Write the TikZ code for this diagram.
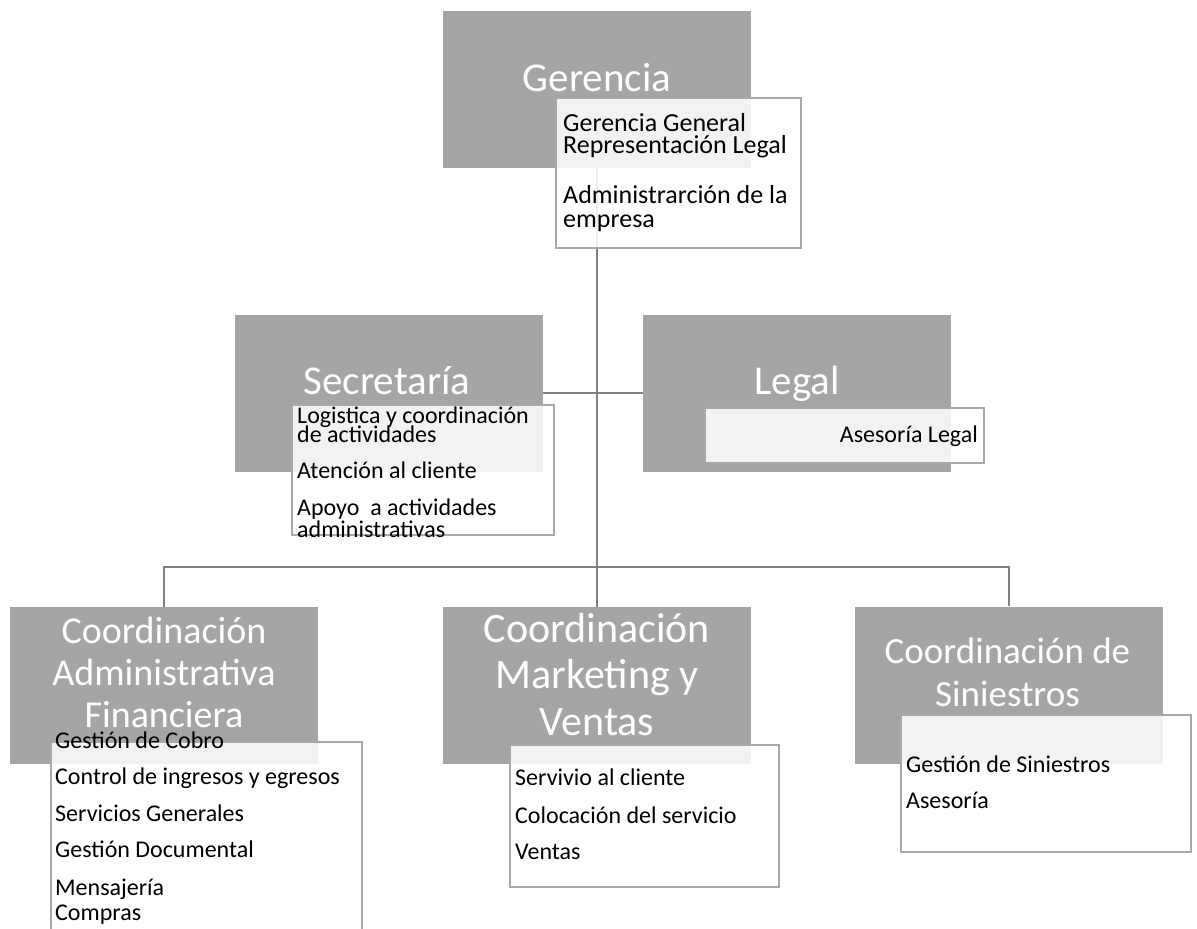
\documentclass[tikz,border=0pt]{standalone}
\usepackage{fontspec}
\setmainfont{Carlito}
\definecolor{gris}{HTML}{A5A5A5}
\definecolor{borde}{HTML}{A8A8A8}
\definecolor{linea}{HTML}{808080}
\tikzset{
  cajagris/.style={fill=gris, inner sep=0pt, minimum width=308pt, minimum height=157pt},
  cajablanca/.style={draw=borde, line width=1.5pt, fill=white, fill opacity=0.86, inner sep=0pt},
  conector/.style={draw=linea, line width=2pt},
  titulo/.style={text=white, anchor=base, inner sep=0pt, font=\fontsize{#1}{#1}\selectfont},
  titulo/.default=41,
  item/.style={anchor=base west, inner sep=0pt, font=\fontsize{#1}{#1}\selectfont},
  item/.default=24
}
\begin{document}
\begin{tikzpicture}[x=1pt,y=-1pt]
\useasboundingbox (0,0) rectangle (1197,929);
% cajas grises
\node[cajagris] (ger) at (597,89.5) {};
\node[cajagris] (sec) at (389,393) {};
\node[cajagris] (leg) at (797,393) {};
\node[cajagris] (adm) at (164,685.5) {};
\node[cajagris] (mkt) at (597,685.5) {};
\node[cajagris] (sin) at (1008.5,685) {};
% lineas
\coordinate (cruce) at (597,567);
\draw[conector] (ger.south) -- (mkt.north);
\draw[conector] (sec.east) -- (leg.west);
\draw[conector] (adm.north) -- (adm.north |- cruce) -- (sin.north |- cruce) -- (sin.north);
% cajas blancas
\node[cajablanca, minimum width=245pt, minimum height=150pt] (gerB) at (678.5,173) {};
\node[cajablanca, minimum width=262pt, minimum height=130pt] (secB) at (423,470) {};
\node[cajablanca, minimum width=279pt, minimum height=55pt] (legB) at (844.5,435.5) {};
\node[cajablanca, minimum width=311pt, minimum height=218pt] (admB) at (206.5,851) {};
\node[cajablanca, minimum width=269pt, minimum height=142pt] (mktB) at (644.5,816) {};
\node[cajablanca, minimum width=290pt, minimum height=137pt] (sinB) at (1046,783.5) {};
% titulos
\node[titulo] (gerT) at (597,91) {Gerencia};
\node[titulo] (secT) at (387,394) {Secretaría};
\node[titulo] (legT) at (797,394) {Legal};
\node[titulo=38] (admT1) at (164,643) {Coordinación};
\node[titulo=38] (admT2) at (164,685) {Administrativa};
\node[titulo=38] (admT3) at (164,727) {Financiera};
\node[titulo=42] (mktT1) at (597,642) {Coordinación};
\node[titulo=42] (mktT2) at (597,688) {Marketing y};
\node[titulo=42] (mktT3) at (597,735) {Ventas};
\node[titulo=37] (sinT1) at (1007.5,663) {Coordinación de};
\node[titulo=37] (sinT2) at (1007.5,706) {Siniestros};
% funciones
\node[item=26] (ger1) at (563,131) {Gerencia General};
\node[item=26] (ger2) at (563,153) {Representación Legal};
\node[item=26] (ger3) at (563,203) {Administrarción de la};
\node[item=26] (ger4) at (563,227) {empresa};
\node[item] (sec1) at (297,423) {Logistica y coordinación};
\node[item] (sec2) at (297,442) {de actividades};
\node[item] (sec3) at (297,478) {Atención al cliente};
\node[item] (sec4) at (297,515) {Apoyo\ \ a actividades};
\node[item] (sec5) at (297,537) {administrativas};
\node[item, anchor=base east] (leg1) at (978,442) {Asesoría Legal};
\node[item] (adm1) at (55,748) {Gestión de Cobro};
\node[item] (adm2) at (55,784) {Control de ingresos y egresos};
\node[item] (adm3) at (55,821) {Servicios Generales};
\node[item] (adm4) at (55,857) {Gestión Documental};
\node[item] (adm5) at (55,895) {Mensajería};
\node[item] (adm6) at (55,920) {Compras};
\node[item] (mkt1) at (515,785) {Servivio al cliente};
\node[item] (mkt2) at (515,823) {Colocación del servicio};
\node[item] (mkt3) at (515,859) {Ventas};
\node[item] (sin1) at (906,772) {Gestión de Siniestros};
\node[item] (sin2) at (906,808) {Asesoría};
\end{tikzpicture}
\end{document}
